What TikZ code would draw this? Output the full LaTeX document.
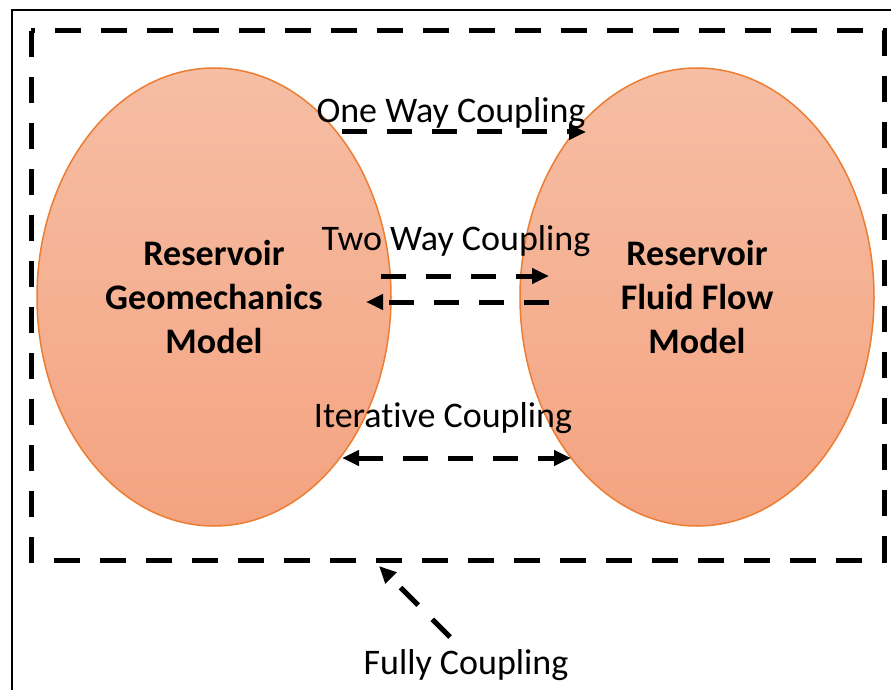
\documentclass[tikz,border=0pt]{standalone}
\usepackage{fontspec}
\setmainfont[Ligatures=NoCommon]{Carlito}
\usepackage{xcolor}
\usetikzlibrary{arrows.meta,positioning,shapes.geometric}

\definecolor{peachtop}{RGB}{246,190,165}
\definecolor{peachbot}{RGB}{244,163,128}
\definecolor{rimorange}{RGB}{237,125,49}

\begin{document}
\begin{tikzpicture}[
  x=1pt, y=-1pt,
  model/.style={ellipse, draw=rimorange, line width=1.5pt, top color=peachtop, bottom color=peachbot,
    minimum width=354pt, minimum height=458pt, inner sep=0pt, align=center,
    font=\bfseries\fontsize{36}{44}\selectfont},
  label/.style={inner sep=0pt, font=\fontsize{36}{40}\selectfont},
  couple/.style={line width=5pt, dash pattern=on 25pt off 20pt, {Triangle[length=17pt,width=15pt]}-{Triangle[length=17pt,width=15pt]}},
  oneway/.style={line width=5pt, dash pattern=on 25pt off 20pt, -{Triangle[length=17pt,width=15pt]}}
]
\useasboundingbox (0,0) rectangle (891,690);
\clip (0,0) rectangle (891,690);
\fill[white] (0,0) rectangle (891,690);
\draw[line width=2pt] (12,10) rectangle (905,705);

% outer dashed frame
\draw[line width=5pt, dash pattern=on 26pt off 20pt] (31,31) rectangle (884,560);

% models
\node[model] (geo) at (214,297) {Reservoir\\Geomechanics\\Model};
\node[model] (flow) at (697,297) {Reservoir\\Fluid Flow\\Model};

% coupling labels
\node[label] (one) at (451,113) {One Way Coupling};
\node[label] (two) at (456,241) {Two Way Coupling};
\node[label] (iter) at (443,418) {Iterative Coupling};
\node[label] (full) at (466,665) {Fully Coupling};

\coordinate (oneA) at (342,132);
\coordinate (oneB) at (586,132);
\coordinate (twoA) at (381,276);
\coordinate (twoB) at (549,276);
\coordinate (twoC) at (549,302);
\coordinate (twoD) at (366,302);
\coordinate (iterA) at (342,458);
\coordinate (iterB) at (571,458);
\coordinate (fullA) at (450,637);
\coordinate (fullB) at (379,566);

\draw[oneway] (oneA) -- (oneB);
\draw[oneway] (twoA) -- (twoB);
\draw[oneway] (twoC) -- (twoD);
\draw[couple] (iterA) -- (iterB);
\draw[oneway] (fullA) -- (fullB);
\end{tikzpicture}
\end{document}
